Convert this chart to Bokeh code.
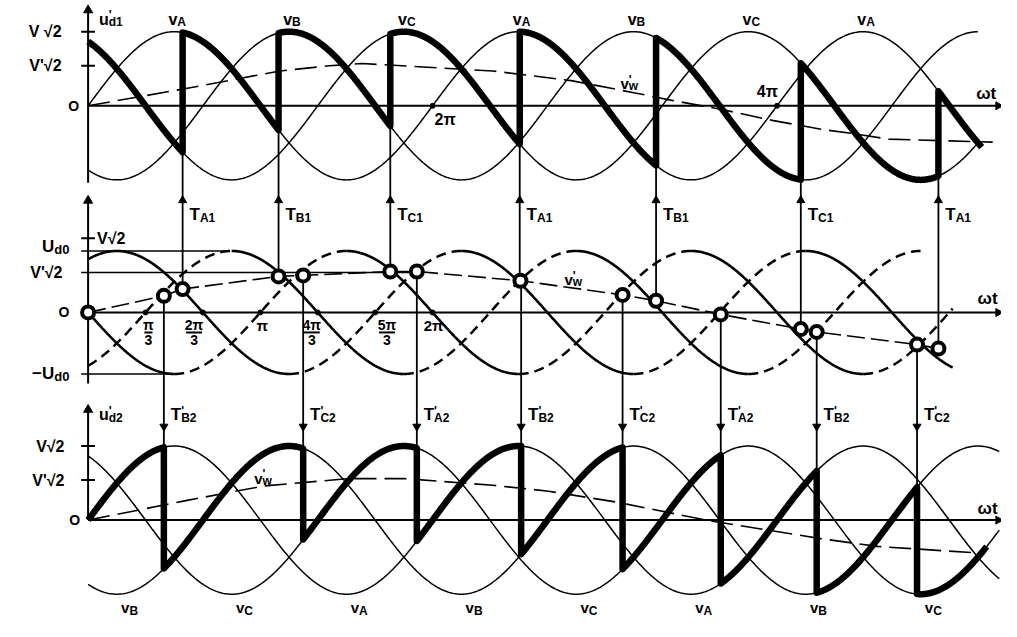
import numpy as np
from bokeh.plotting import figure
from bokeh.models import Range1d
from bokeh.core.properties import value
from bokeh.embed import file_html
from bokeh.resources import INLINE

PI = np.pi

# ---------------- values ----------------
PHASES = ["A", "B", "C"]
PHASE_LAG = [0.0, 2 * PI / 3, 4 * PI / 3]     # v_X = V*sqrt2 * sin(wt - lag)
V_AMP = 1.0      # V*sqrt(2)
VP_AMP = 0.54    # V'*sqrt(2)
UD0 = 0.83       # Ud0

TOP_LABELS = ["A", "B", "C", "A", "B", "C", "A"]        # over the crests
BOT_LABELS = ["B", "C", "A", "B", "C", "A", "B", "C"]   # under the troughs

FIRE1_T = [1.724, 3.474, 5.512, 7.873, 10.36, 13.00, 15.51]
FIRE1_NAME = ["A1", "B1", "C1", "A1", "B1", "C1", "A1"]
TOP_SEQ = ["C", "A", "B", "C", "A", "B", "C", "A"]

FIRE2_T = [1.382, 3.923, 5.996, 7.899, 9.749, 11.54, 13.29, 15.12]
FIRE2_NAME = ["B2", "C2", "A2", "B2", "C2", "A2", "B2", "C2"]
BOT_SEQ = ["A", "B", "C", "A", "B", "C", "A", "B", "C"]

VW_TOP_T = [0, 1.76, 3.5, 4.4, 5.0, 7.38, 8.81, 10.0, 10.6, 11.56, 12.5, 13.4, 14.0, 14.6, 16.5]
VW_TOP_V = [0, 0.23, 0.47, 0.54, 0.57, 0.47, 0.34, 0.17, 0.08, -0.05, -0.20, -0.32, -0.38, -0.45, -0.49]
VW_MID_T = [0, 1.382, 1.724, 3.474, 3.923, 5.512, 5.996, 7.886, 9.749, 10.36, 11.54, 13.00, 13.29, 15.12, 15.51]
VW_MID_V = [0, 0.224, 0.316, 0.487, 0.50, 0.553, 0.553, 0.428, 0.237, 0.158, -0.026, -0.224, -0.263, -0.434, -0.487]
VW_BOT_T = [0, 1.76, 3.2, 4.74, 5.76, 7.38, 8.4, 9.66, 11.27, 13.36, 14.4, 16.36]
VW_BOT_V = [0, 0.26, 0.46, 0.56, 0.56, 0.47, 0.39, 0.24, 0.0, -0.25, -0.355, -0.45]

CTRL_PEAK0 = PI / 6          # first crest of the firing (cosine) waves
CTRL_STEP = 2 * PI / 3
SOLID_K = list(range(-1, 7))
DASHED_K = list(range(1, 9))
CTRL_END = 15.77

MID_TICK_T = [PI / 3, 2 * PI / 3, PI, 4 * PI / 3, 5 * PI / 3, 2 * PI]
MID_TICK_NUM = ["π", "2π", "π", "4π", "5π", "2π"]
MID_TICK_DEN = ["3", "3", "", "3", "3", ""]
MID_TICK_DX = [3, -9, 2, -6, 12, 1]

TOP_SINE_END, BOT_SINE_END = 16.23, 16.62
TOP_THICK_END, BOT_THICK_END = 16.3, 16.39
AXIS_END = 16.6

# ---------------- layout ----------------
W, H = 1001, 621
XR = (-89 / 55.7, (1017 - 89) / 55.7)
YR = ((108 - 637) / 76.0, 108 / 76.0)
TOP, MID, BOT = 0.0, (108 - 320) / 76.0, (108 - 533) / 76.0
RX, RY = 1 / 55.7, 1 / 76.0
FXS = W / (XR[1] - XR[0])
FYS = H / (YR[1] - YR[0])
FONT = "Liberation Sans"
K = "black"

p = figure(width=W, height=H, x_range=Range1d(*XR), y_range=Range1d(*YR),
           output_backend="svg", toolbar_location=None, min_border=0,
           x_axis_location=None, y_axis_location=None)
p.grid.visible = False
p.outline_line_color = None
p.background_fill_color = "white"

CW = {" ": .278, "'": .238, "0": .556, "1": .556, "2": .556, "3": .556, "4": .556, "5": .556,
      "A": .722, "B": .722, "C": .722, "O": .778, "T": .611, "U": .722, "V": .667,
      "d": .611, "u": .611, "v": .556, "w": .778, "t": .333, "√": .549, "π": .58,
      "ω": .70, "−": .584}


def tw(s, size):
    return sum(CW.get(c, .6) for c in s) * size


def txt(x, y, s, size, align="left", baseline="middle"):
    p.text([x], [y], text=[s], text_font=value(FONT), text_font_size=f"{size}px",
           text_font_style="bold", text_align=align, text_baseline=baseline, text_color=K)


def lab(x, y, main, sub="", prime=False, size=16, ssize=12, align="left"):
    wm, ws = tw(main, size), tw(sub, ssize)
    tot = wm + ws
    x0 = x - (tot / 2 if align == "center" else tot if align == "right" else 0) / FXS
    txt(x0, y, main, size)
    if sub:
        txt(x0 + wm / FXS, y - 3 / FYS, sub, ssize)
    if prime:
        txt(x0 + wm / FXS, y + size * 0.25 / FYS, "'", ssize)


def vph(ph, t):
    return V_AMP * np.sin(np.asarray(t, dtype=float) - PHASE_LAG[PHASES.index(ph)])


def envelope(seq, fires, end):
    b = [0.0] + list(fires) + [end]
    xs, ys = [], []
    for i, ph in enumerate(seq):
        t = np.linspace(b[i], b[i + 1], 150)
        xs.extend(t)
        ys.extend(vph(ph, t))
    return np.array(xs), np.array(ys)


def arrow(x, y, direction, size=9):
    ang = {"up": 0.0, "down": PI, "right": -PI / 2}[direction]
    p.scatter([x], [y], marker="triangle", size=size, angle=ang, fill_color=K, line_color=K)


# ---------------- axes ----------------
tick = 7 * RX
for zero, lo, hi in [(TOP, -1.04, 1.29), (MID, -0.96, 1.51), (BOT, 0.0, 1.49)]:
    p.line([0, 0], [zero + lo, zero + hi], line_width=2, color=K)
    arrow(0, zero + hi, "up")
    p.line([0, AXIS_END], [zero, zero], line_width=2, color=K)
    arrow(AXIS_END, zero, "right", 8)
for zero, lev in [(TOP, V_AMP), (TOP, VP_AMP), (MID, V_AMP), (BOT, V_AMP), (BOT, VP_AMP)]:
    p.line([-tick, tick], [zero + lev, zero + lev], line_width=2, color=K)

# middle reference levels
p.line([-tick, 2.55], [MID + UD0, MID + UD0], line_width=1.6, color=K)
p.line([-tick, 6.1], [MID + VP_AMP, MID + VP_AMP], line_width=1.6, color=K)
p.line([-tick, PI / 2], [MID - UD0, MID - UD0], line_width=1.6, color=K)

# ---------------- top & bottom sinusoids ----------------
tt = np.linspace(0, TOP_SINE_END, 700)
tb = np.linspace(0, BOT_SINE_END, 700)
for ph in PHASES:
    p.line(tt, TOP + vph(ph, tt), line_width=1.5, color=K)
    p.line(tb, BOT + vph(ph, tb), line_width=1.5, color=K)

ex, ey = envelope(TOP_SEQ, FIRE1_T, TOP_THICK_END)
p.line(ex, TOP + ey, line_width=6.5, color=K, line_join="round")
ex, ey = envelope(BOT_SEQ, FIRE2_T, BOT_THICK_END)
p.line(ex, BOT + ey, line_width=6.5, color=K, line_join="round")

# v'w reference
p.line(VW_TOP_T, TOP + np.array(VW_TOP_V), line_width=1.6, color=K, line_dash="22 8")
p.line(VW_BOT_T, BOT + np.array(VW_BOT_V), line_width=1.6, color=K, line_dash="22 8")
p.line(VW_MID_T, MID + np.array(VW_MID_V), line_width=1.6, color=K, line_dash="18 6")

# ---------------- firing waves (middle) ----------------
for k in SOLID_K:
    pk = CTRL_PEAK0 + k * CTRL_STEP
    a = 0.0 if k == 0 else max(pk, 0.0)
    b = min(pk + PI, CTRL_END)
    t = np.linspace(a, b, 200)
    p.line(t, MID + UD0 * np.cos(t - pk), line_width=2.6, color=K)
for k in DASHED_K:
    pk = CTRL_PEAK0 + k * CTRL_STEP
    a = max(pk - PI, 0.0)
    b = min(pk, CTRL_END)
    t = np.linspace(a, b, 200)
    p.line(t, MID + UD0 * np.cos(t - pk), line_width=2.5, color=K, line_dash="10 6")

# ---------------- firing pulses ----------------
vw1 = np.interp(FIRE1_T, VW_MID_T, VW_MID_V)
top_to = [float(vph(ph, t)) for ph, t in zip(TOP_SEQ, FIRE1_T)]
p.segment(FIRE1_T, list(MID + vw1), FIRE1_T, [TOP + v for v in top_to], line_width=1.8, color=K)
vw2 = np.interp(FIRE2_T, VW_MID_T, VW_MID_V)
bot_to = [float(vph(ph, t)) for ph, t in zip(BOT_SEQ, FIRE2_T)]
p.segment(FIRE2_T, list(MID + vw2), FIRE2_T, [BOT + v for v in bot_to], line_width=1.8, color=K)
for t in FIRE1_T:
    arrow(t, TOP - 97 * RY, "up", 8)
for t in FIRE2_T:
    arrow(t, BOT + 96 * RY, "down", 8)

p.scatter(VW_MID_T, MID + np.array(VW_MID_V), marker="circle", size=12,
          fill_color="white", line_color=K, line_width=4)

# axis dots
p.scatter([2 * PI, 4 * PI], [TOP, TOP], size=5, color=K)
p.scatter(MID_TICK_T, [MID] * len(MID_TICK_T), size=5, color=K)

# ---------------- texts ----------------
# top panel
txt(-27 * RX, TOP + V_AMP, "V √2", 16, "right")
txt(-27 * RX, TOP + VP_AMP, "V'√2", 16, "right")
txt(-9 * RX, TOP, "O", 14, "right")
lab(11 * RX, TOP + 89 * RY, "u", "d1", True, 16, 12)
for j, ph in enumerate(TOP_LABELS):
    lab(PI / 2 + j * CTRL_STEP + 3 * RX, TOP + V_AMP + 13 * RY, "v", ph, False, 16, 12, "center")
txt(2 * PI + 2 * RX, TOP - 14 * RY, "2π", 16)
txt(4 * PI + 1 * RX, TOP + 15 * RY, "4π", 16, "right")
txt(AXIS_END - 2 * RX, TOP + 13 * RY, "ωt", 17, "right")
lab(9.71, TOP + 23 * RY, "v", "w", True, 15, 12)

# firing labels
for t, nm in zip(FIRE1_T, FIRE1_NAME):
    lab(t + 7 * RX, MID + 100 * RY, "T", nm, False, 17, 12)
for t, nm in zip(FIRE2_T, FIRE2_NAME):
    lab(t + 7 * RX, BOT + 108 * RY, "T", nm, True, 17, 12)

# middle panel
txt(9 * RX, MID + V_AMP, "V√2", 16)
lab(-19 * RX, MID + UD0 + 5 * RY, "U", "d0", False, 17, 13, "right")
txt(-26 * RX, MID + VP_AMP, "V'√2", 16, "right")
txt(-19 * RX, MID, "O", 14, "right")
lab(-19 * RX, MID - UD0, "−U", "d0", False, 17, 13, "right")
for t, num, den, dx in zip(MID_TICK_T, MID_TICK_NUM, MID_TICK_DEN, MID_TICK_DX):
    cx = t + dx * RX
    if den:
        txt(cx, MID - 13 * RY, num, 14, "center")
        half = tw(num, 14) / 2 / FXS
        p.line([cx - half, cx + half], [MID - 20.5 * RY, MID - 20.5 * RY], line_width=2, color=K)
        txt(cx, MID - 28 * RY, den, 14, "center")
    else:
        txt(cx, MID - 13 * RY, num, 15, "center")
lab(8.69, MID + 34 * RY, "v", "w", True, 15, 12)
txt(XR[1] - 4 * RX, MID + 14 * RY, "ωt", 17, "right")

# bottom panel
lab(11 * RX, BOT + 108 * RY, "u", "d2", True, 16, 12)
txt(-24 * RX, BOT + V_AMP, "V√2", 16, "right")
txt(-24 * RX, BOT + VP_AMP, "V'√2", 16, "right")
txt(-8 * RX, BOT, "O", 14, "right")
lab(3.03, BOT + 43 * RY, "v", "w", True, 15, 12)
txt(XR[1] - 4 * RX, BOT + 12 * RY, "ωt", 17, "right")
for j, ph in enumerate(BOT_LABELS):
    lab(PI / 6 + j * CTRL_STEP + 13 * RX, BOT - V_AMP - 14 * RY, "v", ph, False, 15, 12, "center")

open("out.html", "w").write(file_html(p, INLINE))
